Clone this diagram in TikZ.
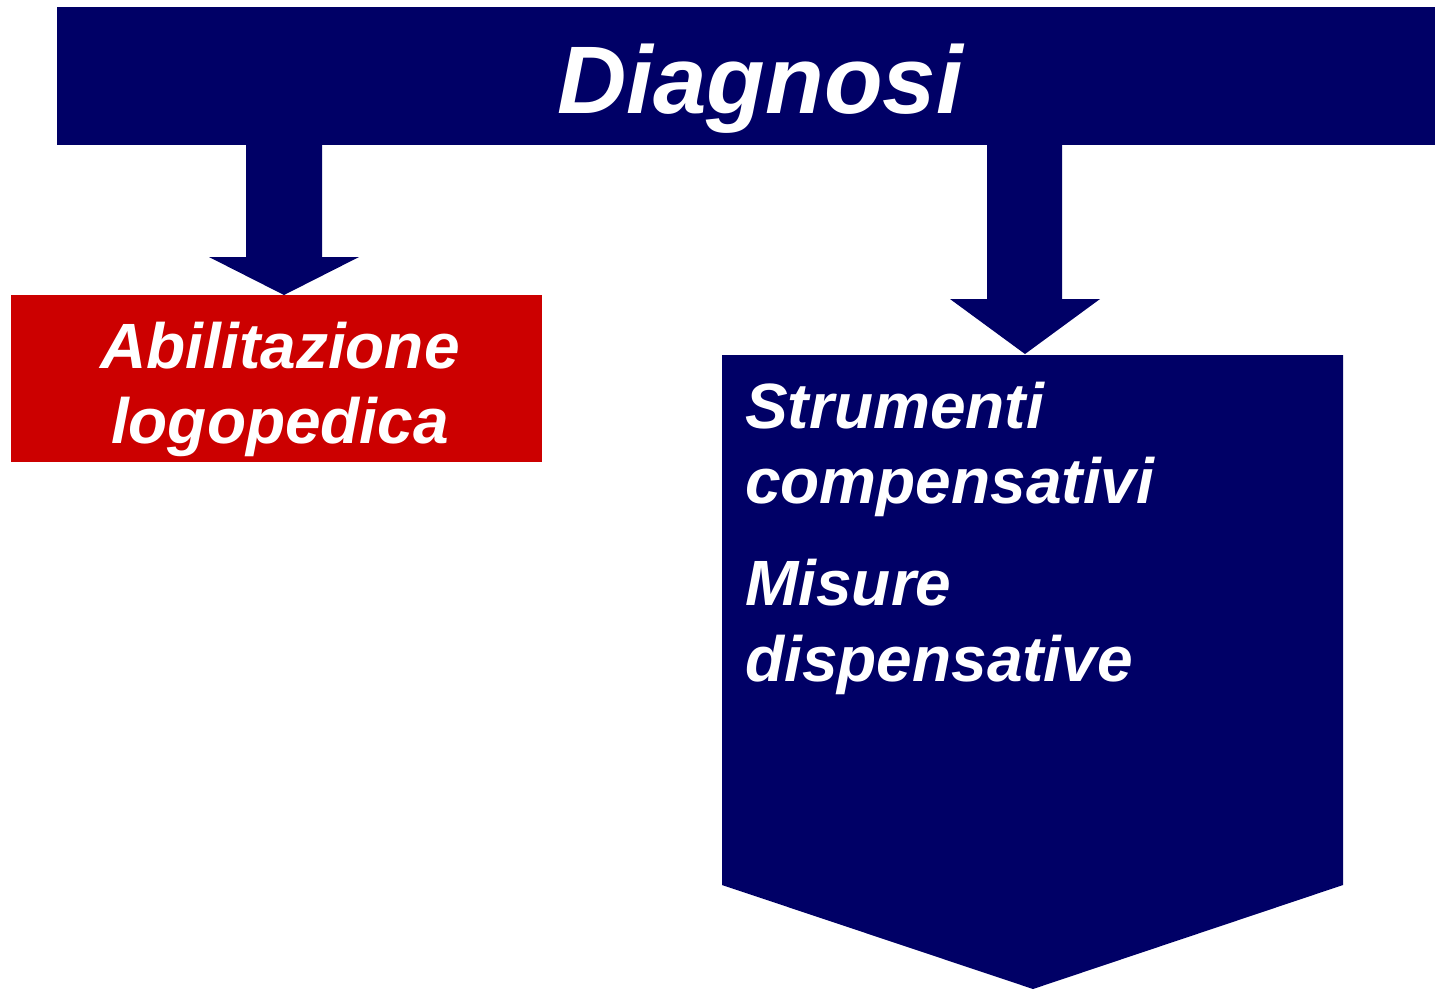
\documentclass[tikz,border=0pt]{standalone}
\usepackage{fontspec}
\setmainfont{Liberation Sans}
\definecolor{navy}{HTML}{000066}
\definecolor{redbox}{HTML}{CC0000}
\begin{document}
\begin{tikzpicture}[x=1pt,y=-1pt,
  txt/.style={text=white,inner sep=0pt,font=\bfseries\itshape\fontsize{64}{64}\selectfont},
  bigtxt/.style={text=white,inner sep=0pt,font=\bfseries\itshape\fontsize{96}{96}\selectfont},
  navyfill/.style={fill=navy,draw=none}]
\useasboundingbox (0,0) rectangle (1435,989);
% banner
\fill[navyfill] (57,7) rectangle (1435,145);
\node[bigtxt,anchor=base] (diag) at (760,113) {Diagnosi};
% left block arrow
\fill[navyfill] (246,144) -- (322,144) -- (322,257) -- (359,257) -- (284,295) -- (209,257) -- (246,257) -- cycle;
% red box
\fill[redbox] (11,295) rectangle (542,462);
\node[txt,anchor=base] (abil) at (280,368) {Abilitazione};
\node[txt,anchor=base] (logo) at (280,443) {logopedica};
% right block arrow
\fill[navyfill] (987,144) -- (1062,144) -- (1062,299) -- (1100,299) -- (1025,354) -- (950,299) -- (987,299) -- cycle;
% big pentagon arrow
\fill[navyfill] (722,355) -- (1343,355) -- (1343,885) -- (1033,989) -- (722,885) -- cycle;
\node[txt,anchor=base west] (s1) at (745,428) {Strumenti};
\node[txt,anchor=base west] (s2) at (745,503) {compensativi};
\node[txt,anchor=base west] (m1) at (745,605) {Misure};
\node[txt,anchor=base west] (m2) at (745,681) {dispensative};
\end{tikzpicture}
\end{document}
